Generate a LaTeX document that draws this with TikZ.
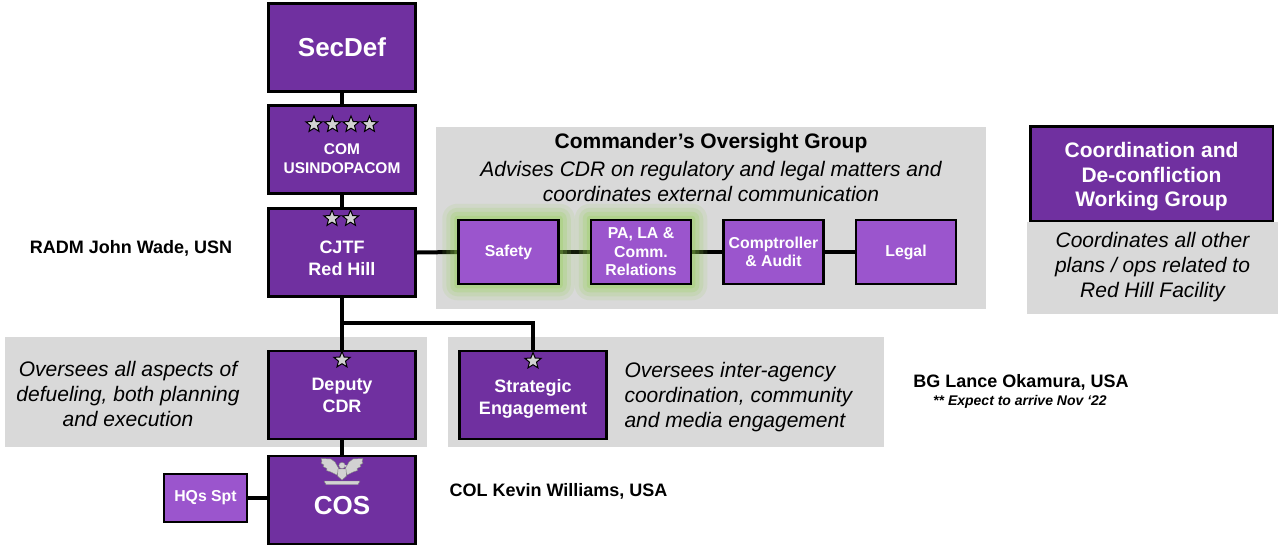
\documentclass[tikz,border=0pt]{standalone}
\usepackage{fontspec}
\setmainfont{Liberation Sans}
\usetikzlibrary{shapes}
\usetikzlibrary{positioning}
\usetikzlibrary{backgrounds}
\definecolor{darkpurple}{RGB}{112,48,160}
\definecolor{lightpurple}{RGB}{155,85,205}
\definecolor{panelgray}{RGB}{217,217,217}
\definecolor{glowgreen}{RGB}{146,208,80}
\definecolor{silver}{RGB}{210,210,210}

\begin{document}
\begin{tikzpicture}[x=1pt,y=-1pt]
\tikzstyle{box} = [rectangle, draw=black, line width=2.5pt, fill=darkpurple, text=white,
minimum width=147pt, minimum height=88pt, inner sep=0pt, align=center, font=\bfseries\fontsize{18}{22}\selectfont]
\tikzstyle{smallbox} = [rectangle, draw=black, line width=2.5pt, fill=lightpurple, text=white,
minimum width=100pt, minimum height=64pt, inner sep=0pt, align=center, font=\bfseries\fontsize{15.8}{18.5}\selectfont]
\tikzstyle{boxtext} = [text=white, align=center, font=\bfseries\fontsize{18}{22}\selectfont]
\tikzstyle{panel} = [rectangle, fill=panelgray, inner sep=0pt]
\tikzstyle{note} = [align=center, font=\itshape\fontsize{21}{25}\selectfont]
\tikzstyle{person} = [font=\bfseries\fontsize{18}{21}\selectfont]
\tikzstyle{rank} = [star, star points=5, star point ratio=2.3, draw=black, line width=1pt,
fill=silver, minimum size=17pt, inner sep=0pt]
\tikzstyle{eaglepart} = [fill=silver, draw=gray, line width=0.4pt]
\tikzstyle{link} = [draw, line width=4pt]
\useasboundingbox (0,0) rectangle (1278,547);
% chain of command
\node[box, font=\bfseries\fontsize{26}{30}\selectfont] (secdef) at (342,47.5) {SecDef};
\node[box] (com) at (342,149.5) {};
\node[boxtext, font=\bfseries\fontsize{15.5}{19}\selectfont] (comlbl) at ([yshift=-9pt]com.center) {COM\\USINDOPACOM};
\foreach \i in {0,...,3}
  \node[rank] (comstar\i) at (314+18.5*\i,124.5) {};
\node[box] (cjtf) at (342,252.5) {};
\node[boxtext] (cjtflbl) at ([yshift=-5.5pt]cjtf.center) {CJTF\\Red Hill};
\node[rank] (cjtfstar1) at (332,218.5) {};
\node[rank] (cjtfstar2) at (350.5,218.5) {};
\node[box] (deputy) at (342,395) {Deputy\\CDR};
\node[rank] (depstar) at (342,360) {};
\node[box] (strat) at (533,395) {};
\node[boxtext] (stratlbl) at ([yshift=-3.5pt]strat.center) {Strategic\\Engagement};
\node[rank] (stratstar) at (533,361) {};
\node[box] (cos) at (342,500) {};
\node[boxtext, font=\bfseries\fontsize{26}{30}\selectfont] (coslbl) at ([yshift=-6pt]cos.center) {COS};
\node[smallbox, minimum width=83pt, minimum height=48pt] (hqs) at (205.5,498) {HQs Spt};
% colonel eagle
\coordinate (eagle) at (342,472);
\begin{scope}[shift={(eagle)}]
\foreach \s in {1,-1}
  \filldraw[eaglepart, xscale=\s] (-3,-3) -- (-7,-10) -- (-11,-13) -- (-21,-13.5) -- (-20,-10.5)
    -- (-21,-9) -- (-18,-7) -- (-19,-5.5) -- (-15,-3.5) -- (-15.5,-1.5) -- (-11,0) -- (-5,3) -- cycle;
\filldraw[eaglepart] (-4,-3) -- (4,-3) -- (4.5,4) -- (0,8) -- (-4.5,4) -- cycle;
\filldraw[eaglepart] (0,-6.5) circle (3.2);
\fill[silver] (2.5,-7.5) -- (5.5,-6) -- (2.5,-5) -- cycle;
\filldraw[eaglepart] (-18,9) -- (18,9) -- (16,12.5) -- (-16,12.5) -- cycle;
\end{scope}
% oversight group
\node[font=\bfseries\fontsize{21}{25}\selectfont] (ogtitle) at (711,143.5) {Commander’s Oversight Group};
\node[note] (ognote) at (711,181) {Advises CDR on regulatory and legal matters and\\coordinates external communication};
\node[smallbox] (safety) at (508.5,252) {Safety};
\node[smallbox, right=30pt of safety] (pa) {PA, LA \&\\Comm.\\Relations};
\node[smallbox, right=30pt of pa] (comp) {Comptroller\\\& Audit};
\node[smallbox, right=30pt of comp] (legal) {Legal};
% working group
\node[box, minimum width=242.5pt, minimum height=94.5pt] (cdwg) at (1151.5,173.5) {};
\node[boxtext, font=\bfseries\fontsize{21}{24.5}\selectfont] (cdwglbl) at ([yshift=-3.5pt]cdwg.center) {Coordination and\\De-confliction\\Working Group};
\node[note] (cdwgnote) at (1152.5,267) {Coordinates all other\\plans / ops related to\\Red Hill Facility};
% notes and names
\node[note] (depnote) at (128,394) {Oversees all aspects of\\defueling, both planning\\and execution};
\node[note, align=left, anchor=west] (stratnote) at (621,397) {Oversees inter-agency\\coordination, community\\and media engagement};
\node[person] (radm) at (131,248) {RADM John Wade, USN};
\node[person] (bg) at (1021,382) {BG Lance Okamura, USA};
\node[font=\bfseries\itshape\fontsize{14}{16}\selectfont] (arrive) at (1020,402) {** Expect to arrive Nov ‘22};
\node[person, anchor=west] (col) at (446,491) {COL Kevin Williams, USA};
\begin{scope}[on background layer]
% grey panels
\node[panel, minimum width=550pt, minimum height=182pt] (ogpanel) at (711,218) {};
\node[panel, minimum width=422pt, minimum height=110pt] (deppanel) at (216,392) {};
\node[panel, minimum width=436pt, minimum height=110pt] (stratpanel) at (666,392) {};
\node[panel, minimum width=251pt, minimum height=92pt] (cdwgpanel) at (1152.5,268) {};
% connectors
\draw[link] (secdef) -- (com);
\draw[link] (com) -- (cjtf);
\draw[link] (cjtf) -- (deputy);
\draw[link] (deputy) -- (cos);
\draw[link] (cjtf.south) -- ++(0,25) -| (strat.north);
\draw[link] (cjtf.east) -- (safety.west);
\draw[link] (safety) -- (pa);
\draw[link] (pa) -- (comp);
\draw[link] (comp) -- (legal);
\draw[link] (hqs.east) -- (hqs.east -| cos.west);
% glow
\foreach \b in {safety,pa}
  \foreach \g/\o in {15/0.12,11/0.15,7/0.2,3/0.25}
    \fill[glowgreen, opacity=\o, rounded corners=\g pt] ([xshift=-\g pt, yshift=\g pt]\b.north west)
      rectangle ([xshift=\g pt, yshift=-\g pt]\b.south east);
\end{scope}
\end{tikzpicture}
\end{document}
